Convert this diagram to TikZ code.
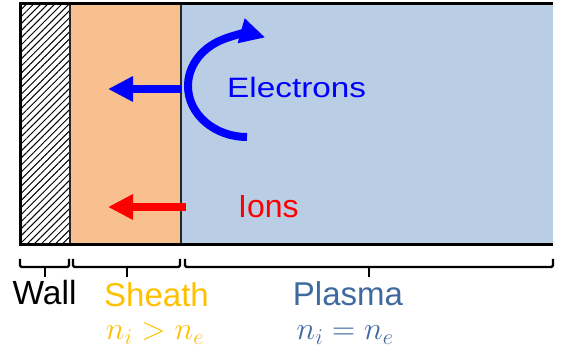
\documentclass[tikz,border=0pt]{standalone}
\usepackage{fix-cm}
\usepackage[no-math]{fontspec}
\setmainfont{Liberation Sans}
\usetikzlibrary{arrows.meta,patterns.meta}
\definecolor{sheathfill}{HTML}{F9C08F}
\definecolor{plasmafill}{HTML}{B9CDE5}
\definecolor{sheathtext}{HTML}{FFC000}
\definecolor{plasmatext}{HTML}{3F6AA0}
\definecolor{elblue}{HTML}{0000FF}
\definecolor{ionred}{HTML}{FF0000}
\tikzset{
  border/.style={line width=3pt,black},
  divider/.style={line width=2pt,black!85},
  bracket/.style={line width=2.4pt,black,rounded corners=1.5pt},
  flow/.style={line width=8pt,-{Triangle[length=25pt,width=24pt]}},
  label/.style={inner sep=0pt,anchor=base},
}
\begin{document}
\begin{tikzpicture}[x=1pt,y=1pt]
\useasboundingbox (0,0) rectangle (573,-363);
% regions
\fill[white] (20,-4) rectangle (70,-245);
\fill[pattern={Lines[angle=45,distance=5pt,line width=1pt]}] (20,-4) rectangle (70,-245);
\fill[sheathfill] (70,-4) rectangle (181,-245);
\fill[plasmafill] (181,-4) rectangle (553,-245);
% borders
\draw[divider] (70,-4) -- (70,-245);
\draw[divider] (181,-4) -- (181,-245);
\draw[border] (20,-4) -- (553,-4);
\draw[border] (20,-245) -- (553,-245);
\draw[border] (20,-2.5) -- (20,-246.5);
% arrows
\coordinate (eStart) at (182,-89);
\coordinate (eEnd) at (108,-89);
\draw[flow,elblue] (eStart) -- (eEnd);
\coordinate (iStart) at (186,-207);
\coordinate (iEnd) at (108,-207);
\draw[flow,ionred] (iStart) -- (iEnd);
\coordinate (arcStart) at (247,-137);
\draw[flow,elblue] (arcStart) arc[start angle=270,end angle=72,x radius=59,y radius=51];
% labels inside
\node[label,anchor=base west,text=elblue,font=\fontsize{28}{28}\selectfont] (electrons) at (227,-98) {\scalebox{1.19}[1]{Electrons}};
\node[label,anchor=base west,text=ionred,font=\fontsize{32}{32}\selectfont] (ions) at (238,-218) {Ions};
% brackets
\draw[bracket] (20,-259) -- (20,-267) -- (69,-267) -- (69,-259);
\draw[bracket] (45,-267) -- (45,-277);
\draw[bracket] (73,-259) -- (73,-267) -- (180,-267) -- (180,-259);
\draw[bracket] (127,-267) -- (127,-277);
\draw[bracket] (185,-259) -- (185,-267) -- (553,-267) -- (553,-259);
\draw[bracket] (369,-267) -- (369,-277);
% labels below
\node[label,font=\fontsize{33.5}{33.5}\selectfont] (wall) at (44.5,-305) {Wall};
\node[label,text=sheathtext,font=\fontsize{33}{33}\selectfont] (sheath) at (156.5,-307) {Sheath};
\node[label,text=plasmatext,font=\fontsize{33}{33}\selectfont] (plasma) at (348,-306) {Plasma};
\node[label,text=sheathtext,font=\fontsize{32}{32}\selectfont] (sheq) at (155,-340) {$n_i > n_e$};
\node[label,text=plasmatext,font=\fontsize{32}{32}\selectfont] (pleq) at (345,-340) {$n_i = n_e$};
\end{tikzpicture}
\end{document}
